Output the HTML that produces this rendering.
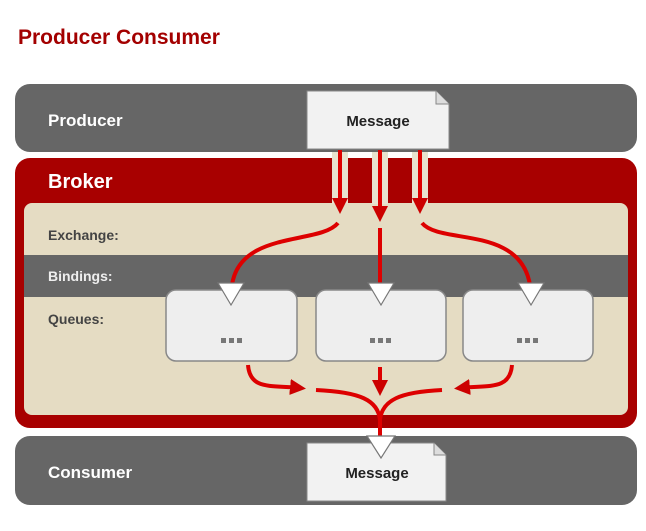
<!DOCTYPE html>
<html><head><style>body{margin:0;background:#fff}svg{display:block}text{font-family:"Liberation Sans",sans-serif;font-weight:bold}</style></head><body>
<svg width="646" height="531" viewBox="0 0 646 531">
<defs><marker id="a" markerWidth="4" markerHeight="4" refX="2.5" refY="2" orient="auto" markerUnits="strokeWidth"><path d="M0,0 L4,2 L0,4z" fill="#c00"/></marker></defs>
<text x="18" y="44" fill="#a30000" font-size="21">Producer Consumer</text>
<rect x="15" y="84" width="622" height="68" rx="15" fill="#666"/>
<text x="48" y="126" fill="#fff" font-size="17">Producer</text>
<rect x="15" y="158" width="622" height="270" rx="15" fill="#a80000"/>
<text x="48" y="188" fill="#fff" font-size="20">Broker</text>
<rect x="24" y="203" width="604" height="212" rx="8" fill="#e5dcc3"/>
<rect x="24" y="255" width="604" height="42" fill="#666"/>
<text x="48" y="240" fill="#444" font-size="14">Exchange:</text>
<text x="48" y="281" fill="#eee" font-size="14">Bindings:</text>
<text x="48" y="324" fill="#444" font-size="14">Queues:</text>
<g fill="#eee" stroke="#888" stroke-width="1.5">
<rect x="166" y="290" width="131" height="71" rx="10"/>
<rect x="316" y="290" width="130" height="71" rx="10"/>
<rect x="463" y="290" width="130" height="71" rx="10"/>
</g>
<g fill="#777">
<rect x="221" y="338" width="5" height="5"/><rect x="229" y="338" width="5" height="5"/><rect x="237" y="338" width="5" height="5"/>
<rect x="370" y="338" width="5" height="5"/><rect x="378" y="338" width="5" height="5"/><rect x="386" y="338" width="5" height="5"/>
<rect x="517" y="338" width="5" height="5"/><rect x="525" y="338" width="5" height="5"/><rect x="533" y="338" width="5" height="5"/>
</g>
<g fill="#e8e2cf"><rect x="332" y="152" width="16" height="52"/><rect x="372" y="152" width="16" height="52"/><rect x="412" y="152" width="16" height="52"/></g>
<g stroke="#d00" stroke-width="4" fill="none">
<path d="M340,150 V208" marker-end="url(#a)"/>
<path d="M380,150 V216" marker-end="url(#a)"/>
<path d="M420,150 V208" marker-end="url(#a)"/>
<path d="M338,223 C320,245 240,230 232,285"/>
<path d="M380,228 V285"/>
<path d="M422,223 C440,245 520,225 530,285"/>
<path d="M248,365 C250,390 270,385 300,388" marker-end="url(#a)"/>
<path d="M512,365 C510,390 490,385 460,388" marker-end="url(#a)"/>
<path d="M380,367 V390" marker-end="url(#a)"/>
<path d="M316,390 C360,392 378,400 380,420 C382,400 400,392 442,390"/>
<path d="M380,412 V440"/>
</g>
<g fill="#fff" stroke="#777" stroke-width="1.2">
<path d="M218,283 L244,283 L231,305z"/>
<path d="M368,283 L394,283 L381,305z"/>
<path d="M518,283 L544,283 L531,305z"/>
</g>
<rect x="15" y="436" width="622" height="69" rx="15" fill="#666"/>
<text x="48" y="478" fill="#fff" font-size="17">Consumer</text>
<path d="M307,91 H436 L449,104 V149 H307z" fill="#f2f2f2" stroke="#888"/>
<path d="M436,91 V104 H449" fill="#ddd" stroke="#888"/>
<text x="378" y="126" text-anchor="middle" fill="#222" font-size="15">Message</text>
<path d="M307,443 H434 L446,455 V501 H307z" fill="#f2f2f2" stroke="#888"/>
<path d="M434,443 V455 H446" fill="#ddd" stroke="#888"/>
<text x="377" y="478" text-anchor="middle" fill="#222" font-size="15">Message</text>
<path d="M367,436 L395,436 L381,458z" fill="#fff" stroke="#777" stroke-width="1.2"/>
</svg>
</body></html>
